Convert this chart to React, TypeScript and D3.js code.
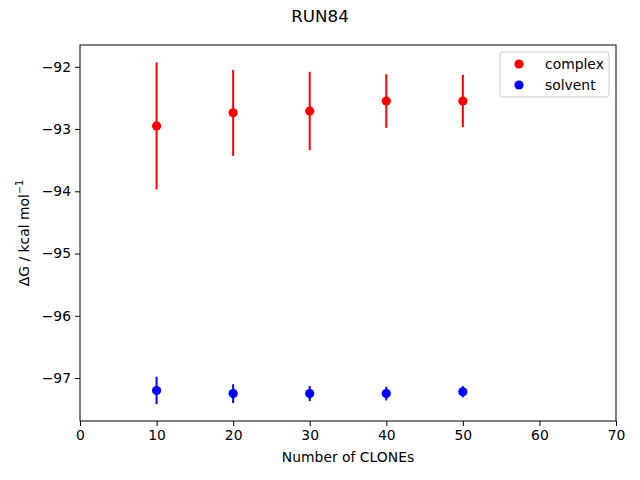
import * as d3 from "d3";
import React, { useEffect, useRef } from "react";

const clones = [10, 20, 30, 40, 50];
const complexValues = [-92.95, -92.74, -92.71, -92.55, -92.55];
const complexErrors = [1.02, 0.69, 0.63, 0.43, 0.42];
const solventValues = [-97.2, -97.25, -97.25, -97.25, -97.22];
const solventErrors = [0.22, 0.15, 0.12, 0.11, 0.09];
const xTicks = [0, 10, 20, 30, 40, 50, 60, 70];
const yTicks = [-97, -96, -95, -94, -93, -92];

const series = [
  { name: "complex", color: "#ff0000", values: complexValues, errors: complexErrors },
  { name: "solvent", color: "#0000ff", values: solventValues, errors: solventErrors },
];

export default function App() {
  const svgRef = useRef<SVGSVGElement | null>(null);

  useEffect(() => {
    const svg = d3.select(svgRef.current);
    svg.selectAll("*").remove();

    const font = "DejaVu Sans, sans-serif";
    const margin = { top: 45, right: 24, bottom: 59, left: 80 };
    const width = 640 - margin.left - margin.right;
    const height = 480 - margin.top - margin.bottom;

    const x = d3.scaleLinear().domain([0, 70]).range([0, width]);
    const y = d3.scaleLinear().domain([-97.69, -91.65]).range([height, 0]);

    svg
      .append("rect")
      .attr("width", 640)
      .attr("height", 480)
      .attr("fill", "#fff");

    const g = svg
      .append("g")
      .attr("transform", `translate(${margin.left},${margin.top})`);

    series.forEach((s) => {
      const pts = clones.map((c, i) => ({ c, v: s.values[i], e: s.errors[i] }));
      g.selectAll(`.err-${s.name}`)
        .data(pts)
        .enter()
        .append("line")
        .attr("x1", (d) => x(d.c))
        .attr("x2", (d) => x(d.c))
        .attr("y1", (d) => y(d.v - d.e))
        .attr("y2", (d) => y(d.v + d.e))
        .attr("stroke", s.color)
        .attr("stroke-width", 2);
      g.selectAll(`.pt-${s.name}`)
        .data(pts)
        .enter()
        .append("circle")
        .attr("cx", (d) => x(d.c))
        .attr("cy", (d) => y(d.v))
        .attr("r", 4.6)
        .attr("fill", s.color);
    });

    const xAxis = g
      .append("g")
      .attr("transform", `translate(0,${height})`)
      .call(d3.axisBottom(x).tickValues(xTicks).tickSize(5).tickPadding(4));
    const yAxis = g
      .append("g")
      .call(
        d3
          .axisLeft(y)
          .tickValues(yTicks)
          .tickSize(5)
          .tickPadding(4)
          .tickFormat((d) => `${d}`.replace("-", "\u2212"))
      );
    [xAxis, yAxis].forEach((a) => {
      a.select(".domain").remove();
      a.selectAll("text").attr("font-family", font).attr("font-size", 13.9).attr("fill", "#000");
      a.selectAll("line").attr("stroke", "#000").attr("stroke-width", 1);
    });

    g.append("rect")
      .attr("width", width)
      .attr("height", height)
      .attr("fill", "none")
      .attr("stroke", "#000")
      .attr("stroke-width", 1);

    svg
      .append("text")
      .attr("x", 320)
      .attr("y", 22)
      .attr("text-anchor", "middle")
      .attr("font-family", font)
      .attr("font-size", 16.7)
      .text("RUN84");

    svg
      .append("text")
      .attr("x", margin.left + width / 2)
      .attr("y", 462)
      .attr("text-anchor", "middle")
      .attr("font-family", font)
      .attr("font-size", 13.9)
      .text("Number of CLONEs");

    const ylab = svg
      .append("text")
      .attr("transform", `translate(29,${margin.top + height / 2}) rotate(-90)`)
      .attr("text-anchor", "middle")
      .attr("font-family", font)
      .attr("font-size", 13.9);
    ylab.append("tspan").text("ΔG / kcal mol");
    ylab.append("tspan").attr("dy", -6).attr("font-size", 9.7).text("\u22121");

    const legend = svg.append("g").attr("transform", "translate(500,52)");
    legend
      .append("rect")
      .attr("width", 109)
      .attr("height", 45)
      .attr("rx", 3)
      .attr("fill", "#fff")
      .attr("fill-opacity", 0.8)
      .attr("stroke", "#cccccc");
    series.forEach((s, i) => {
      legend
        .append("circle")
        .attr("cx", 19)
        .attr("cy", 12 + i * 21)
        .attr("r", 4.6)
        .attr("fill", s.color);
      legend
        .append("text")
        .attr("x", 45)
        .attr("y", 12 + i * 21)
        .attr("dy", "0.35em")
        .attr("font-family", font)
        .attr("font-size", 13.9)
        .text(s.name);
    });
  }, []);

  return (
    <svg
      ref={svgRef}
      width={640}
      height={480}
      style={{ display: "block", position: "absolute", left: 0, top: 0 }}
    />
  );
}
